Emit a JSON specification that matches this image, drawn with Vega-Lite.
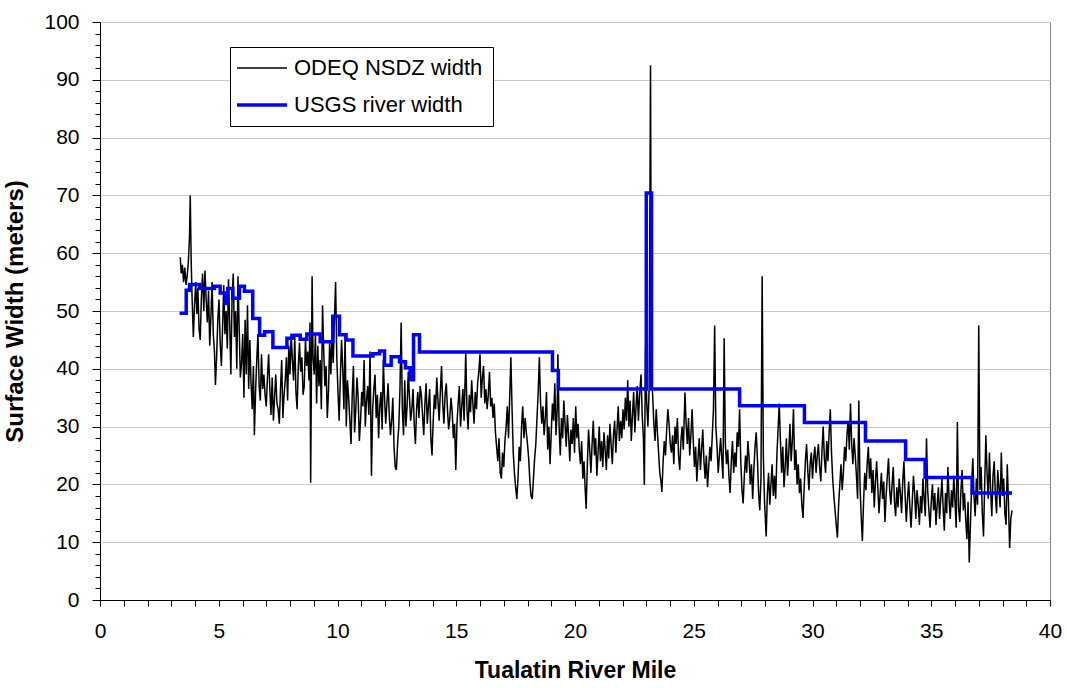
{
"$schema": "https://vega.github.io/schema/vega-lite/v6.json",
"width": 950,
"height": 578,
"autosize": {"type": "none"},
"padding": {"left": 100, "top": 22, "right": 17, "bottom": 88},
"background": "white",
"config": {"font": "Liberation Sans", "view": {"stroke": "#808080", "strokeWidth": 1}},
"datasets": {
"usgs": [
{"mile":3.35,"width":49.6},{"mile":3.63,"width":53.6},{"mile":3.77,"width":54.6},{"mile":4.19,"width":53.9},{"mile":4.82,"width":54.3},{"mile":5.06,"width":53.1},{"mile":5.28,"width":51.3},{"mile":5.38,"width":53.9},{"mile":5.59,"width":52.2},{"mile":5.87,"width":54.3},{"mile":6.08,"width":53.4},{"mile":6.43,"width":48.7},{"mile":6.72,"width":45.8},{"mile":6.93,"width":46.4},{"mile":7.28,"width":43.7},{"mile":7.87,"width":45.3},{"mile":8.09,"width":45.8},{"mile":8.43,"width":45.1},{"mile":8.71,"width":46.0},{"mile":9.27,"width":44.7},{"mile":9.8,"width":49.1},{"mile":10.08,"width":45.9},{"mile":10.36,"width":45.0},{"mile":10.65,"width":42.2},{"mile":11.49,"width":42.6},{"mile":11.77,"width":43.1},{"mile":11.98,"width":40.6},{"mile":12.26,"width":42.1},{"mile":12.61,"width":41.2},{"mile":12.86,"width":40.2},{"mile":13.06,"width":38.1},{"mile":13.2,"width":45.9},{"mile":13.45,"width":42.9},{"mile":19.05,"width":39.7},{"mile":19.3,"width":36.5},{"mile":23.0,"width":70.4},{"mile":23.22,"width":36.5},{"mile":26.93,"width":33.6},{"mile":29.66,"width":30.7},{"mile":32.23,"width":27.5},{"mile":33.92,"width":24.3},{"mile":34.74,"width":21.2},{"mile":36.72,"width":18.5},{"mile":38.4,"width":18.5}
],
"odeq": [
{"mile":3.38,"width":59.3},{"mile":3.42,"width":56.5},{"mile":3.47,"width":58.0},{"mile":3.52,"width":55.0},{"mile":3.57,"width":57.5},{"mile":3.62,"width":54.5},{"mile":3.67,"width":56.0},{"mile":3.72,"width":58.5},{"mile":3.77,"width":63.0},{"mile":3.8,"width":70.0},{"mile":3.84,"width":58.5},{"mile":3.88,"width":52.0},{"mile":3.93,"width":45.5},{"mile":3.98,"width":51.0},{"mile":4.03,"width":55.0},{"mile":4.08,"width":49.5},{"mile":4.12,"width":54.0},{"mile":4.17,"width":47.0},{"mile":4.22,"width":45.0},{"mile":4.27,"width":52.5},{"mile":4.32,"width":56.5},{"mile":4.37,"width":50.0},{"mile":4.42,"width":57.0},{"mile":4.47,"width":52.0},{"mile":4.52,"width":48.0},{"mile":4.57,"width":53.5},{"mile":4.62,"width":44.0},{"mile":4.67,"width":49.0},{"mile":4.72,"width":55.0},{"mile":4.77,"width":46.0},{"mile":4.82,"width":43.0},{"mile":4.86,"width":37.2},{"mile":4.91,"width":42.0},{"mile":4.96,"width":48.5},{"mile":5.01,"width":52.0},{"mile":5.06,"width":44.5},{"mile":5.11,"width":40.5},{"mile":5.16,"width":47.0},{"mile":5.21,"width":54.5},{"mile":5.26,"width":46.0},{"mile":5.31,"width":50.0},{"mile":5.36,"width":43.5},{"mile":5.41,"width":55.5},{"mile":5.46,"width":48.0},{"mile":5.51,"width":39.0},{"mile":5.56,"width":52.0},{"mile":5.61,"width":56.5},{"mile":5.66,"width":45.5},{"mile":5.71,"width":50.0},{"mile":5.76,"width":40.0},{"mile":5.81,"width":56.0},{"mile":5.86,"width":47.0},{"mile":5.91,"width":38.5},{"mile":5.96,"width":41.0},{"mile":6.01,"width":46.0},{"mile":6.06,"width":35.0},{"mile":6.11,"width":48.5},{"mile":6.16,"width":39.0},{"mile":6.21,"width":51.0},{"mile":6.26,"width":36.5},{"mile":6.31,"width":45.0},{"mile":6.36,"width":37.5},{"mile":6.41,"width":33.0},{"mile":6.46,"width":40.5},{"mile":6.5,"width":28.5},{"mile":6.55,"width":36.0},{"mile":6.6,"width":41.5},{"mile":6.65,"width":46.0},{"mile":6.7,"width":37.0},{"mile":6.75,"width":34.5},{"mile":6.8,"width":42.5},{"mile":6.85,"width":36.5},{"mile":6.9,"width":39.0},{"mile":6.95,"width":35.5},{"mile":7.0,"width":33.5},{"mile":7.05,"width":38.5},{"mile":7.1,"width":42.5},{"mile":7.15,"width":36.5},{"mile":7.2,"width":32.0},{"mile":7.25,"width":38.5},{"mile":7.3,"width":31.0},{"mile":7.35,"width":35.0},{"mile":7.4,"width":39.0},{"mile":7.45,"width":34.0},{"mile":7.5,"width":33.0},{"mile":7.55,"width":30.5},{"mile":7.6,"width":36.5},{"mile":7.65,"width":41.5},{"mile":7.7,"width":31.5},{"mile":7.75,"width":35.5},{"mile":7.8,"width":38.0},{"mile":7.85,"width":42.0},{"mile":7.9,"width":34.5},{"mile":7.95,"width":44.0},{"mile":8.0,"width":39.0},{"mile":8.05,"width":46.0},{"mile":8.1,"width":41.5},{"mile":8.15,"width":38.0},{"mile":8.2,"width":45.5},{"mile":8.25,"width":36.0},{"mile":8.3,"width":33.0},{"mile":8.35,"width":40.5},{"mile":8.4,"width":44.5},{"mile":8.45,"width":39.5},{"mile":8.5,"width":42.0},{"mile":8.55,"width":35.5},{"mile":8.6,"width":37.0},{"mile":8.65,"width":45.0},{"mile":8.7,"width":40.5},{"mile":8.75,"width":43.0},{"mile":8.8,"width":38.0},{"mile":8.84,"width":48.0},{"mile":8.87,"width":20.3},{"mile":8.9,"width":38.0},{"mile":8.93,"width":56.0},{"mile":8.97,"width":42.0},{"mile":9.02,"width":39.0},{"mile":9.07,"width":46.0},{"mile":9.12,"width":34.0},{"mile":9.17,"width":44.0},{"mile":9.22,"width":37.0},{"mile":9.27,"width":41.5},{"mile":9.32,"width":33.0},{"mile":9.37,"width":51.0},{"mile":9.42,"width":43.0},{"mile":9.47,"width":37.0},{"mile":9.52,"width":40.5},{"mile":9.57,"width":31.5},{"mile":9.62,"width":36.0},{"mile":9.67,"width":44.5},{"mile":9.72,"width":39.0},{"mile":9.77,"width":46.0},{"mile":9.82,"width":41.0},{"mile":9.87,"width":48.5},{"mile":9.92,"width":55.0},{"mile":9.97,"width":42.0},{"mile":10.02,"width":36.0},{"mile":10.07,"width":31.0},{"mile":10.12,"width":38.5},{"mile":10.17,"width":45.0},{"mile":10.22,"width":40.0},{"mile":10.27,"width":33.0},{"mile":10.32,"width":46.0},{"mile":10.37,"width":30.0},{"mile":10.42,"width":38.0},{"mile":10.47,"width":35.0},{"mile":10.52,"width":31.0},{"mile":10.57,"width":27.0},{"mile":10.62,"width":35.5},{"mile":10.67,"width":40.5},{"mile":10.72,"width":29.0},{"mile":10.77,"width":33.0},{"mile":10.82,"width":38.5},{"mile":10.87,"width":35.0},{"mile":10.92,"width":27.5},{"mile":10.97,"width":31.0},{"mile":11.02,"width":36.0},{"mile":11.07,"width":33.5},{"mile":11.12,"width":41.5},{"mile":11.17,"width":30.0},{"mile":11.22,"width":34.5},{"mile":11.27,"width":37.0},{"mile":11.32,"width":32.0},{"mile":11.37,"width":43.0},{"mile":11.43,"width":21.5},{"mile":11.48,"width":33.0},{"mile":11.53,"width":36.5},{"mile":11.58,"width":39.0},{"mile":11.63,"width":31.5},{"mile":11.68,"width":35.5},{"mile":11.73,"width":28.0},{"mile":11.78,"width":33.5},{"mile":11.83,"width":36.0},{"mile":11.88,"width":29.5},{"mile":11.93,"width":41.5},{"mile":11.98,"width":35.0},{"mile":12.03,"width":30.5},{"mile":12.08,"width":34.0},{"mile":12.13,"width":37.5},{"mile":12.18,"width":32.0},{"mile":12.23,"width":28.5},{"mile":12.28,"width":31.0},{"mile":12.33,"width":35.0},{"mile":12.38,"width":26.5},{"mile":12.43,"width":23.0},{"mile":12.48,"width":22.5},{"mile":12.53,"width":27.0},{"mile":12.58,"width":30.0},{"mile":12.63,"width":36.5},{"mile":12.68,"width":48.0},{"mile":12.73,"width":33.0},{"mile":12.78,"width":28.5},{"mile":12.83,"width":38.0},{"mile":12.88,"width":30.0},{"mile":12.93,"width":33.5},{"mile":12.98,"width":39.5},{"mile":13.03,"width":35.0},{"mile":13.08,"width":31.0},{"mile":13.13,"width":33.0},{"mile":13.18,"width":36.5},{"mile":13.23,"width":30.5},{"mile":13.28,"width":27.0},{"mile":13.33,"width":33.0},{"mile":13.38,"width":36.0},{"mile":13.43,"width":31.5},{"mile":13.48,"width":37.0},{"mile":13.53,"width":35.5},{"mile":13.58,"width":32.0},{"mile":13.63,"width":28.5},{"mile":13.68,"width":34.0},{"mile":13.73,"width":37.5},{"mile":13.78,"width":30.5},{"mile":13.83,"width":33.5},{"mile":13.88,"width":36.5},{"mile":13.93,"width":28.0},{"mile":13.98,"width":25.0},{"mile":14.03,"width":31.0},{"mile":14.08,"width":35.5},{"mile":14.13,"width":33.0},{"mile":14.18,"width":38.5},{"mile":14.23,"width":34.5},{"mile":14.28,"width":31.0},{"mile":14.33,"width":36.0},{"mile":14.38,"width":40.5},{"mile":14.43,"width":34.0},{"mile":14.48,"width":30.5},{"mile":14.53,"width":35.5},{"mile":14.58,"width":37.5},{"mile":14.63,"width":33.0},{"mile":14.68,"width":29.5},{"mile":14.73,"width":31.5},{"mile":14.78,"width":35.0},{"mile":14.83,"width":32.5},{"mile":14.88,"width":28.0},{"mile":14.93,"width":30.5},{"mile":14.98,"width":22.5},{"mile":15.03,"width":30.5},{"mile":15.08,"width":34.0},{"mile":15.13,"width":37.0},{"mile":15.18,"width":30.0},{"mile":15.23,"width":33.5},{"mile":15.28,"width":36.5},{"mile":15.33,"width":31.0},{"mile":15.4,"width":42.9},{"mile":15.45,"width":33.0},{"mile":15.5,"width":29.5},{"mile":15.55,"width":35.5},{"mile":15.6,"width":32.5},{"mile":15.65,"width":38.0},{"mile":15.7,"width":34.0},{"mile":15.75,"width":30.5},{"mile":15.8,"width":36.0},{"mile":15.85,"width":33.0},{"mile":15.9,"width":37.5},{"mile":15.95,"width":39.5},{"mile":16.0,"width":42.5},{"mile":16.05,"width":35.0},{"mile":16.1,"width":38.5},{"mile":16.15,"width":40.5},{"mile":16.2,"width":34.0},{"mile":16.25,"width":36.5},{"mile":16.3,"width":33.0},{"mile":16.35,"width":35.5},{"mile":16.4,"width":39.5},{"mile":16.45,"width":33.5},{"mile":16.5,"width":35.0},{"mile":16.55,"width":31.5},{"mile":16.6,"width":34.0},{"mile":16.65,"width":29.0},{"mile":16.7,"width":26.5},{"mile":16.75,"width":24.0},{"mile":16.8,"width":28.0},{"mile":16.85,"width":22.0},{"mile":16.9,"width":21.0},{"mile":16.95,"width":25.5},{"mile":17.0,"width":23.0},{"mile":17.05,"width":27.5},{"mile":17.1,"width":30.0},{"mile":17.15,"width":33.5},{"mile":17.2,"width":28.0},{"mile":17.25,"width":35.0},{"mile":17.3,"width":42.0},{"mile":17.35,"width":33.0},{"mile":17.4,"width":25.5},{"mile":17.45,"width":22.0},{"mile":17.5,"width":19.5},{"mile":17.55,"width":17.5},{"mile":17.6,"width":21.0},{"mile":17.65,"width":26.5},{"mile":17.7,"width":24.0},{"mile":17.75,"width":30.0},{"mile":17.8,"width":33.5},{"mile":17.85,"width":28.0},{"mile":17.9,"width":31.5},{"mile":17.95,"width":29.0},{"mile":18.0,"width":27.0},{"mile":18.05,"width":24.5},{"mile":18.1,"width":20.5},{"mile":18.15,"width":18.0},{"mile":18.2,"width":17.5},{"mile":18.25,"width":21.0},{"mile":18.3,"width":24.5},{"mile":18.35,"width":27.0},{"mile":18.4,"width":31.5},{"mile":18.45,"width":36.0},{"mile":18.5,"width":42.0},{"mile":18.55,"width":34.0},{"mile":18.6,"width":30.5},{"mile":18.65,"width":33.5},{"mile":18.7,"width":28.5},{"mile":18.75,"width":31.5},{"mile":18.8,"width":36.0},{"mile":18.85,"width":26.0},{"mile":18.9,"width":30.0},{"mile":18.95,"width":23.5},{"mile":19.0,"width":29.0},{"mile":19.05,"width":34.0},{"mile":19.1,"width":31.0},{"mile":19.15,"width":37.5},{"mile":19.2,"width":28.5},{"mile":19.25,"width":33.0},{"mile":19.28,"width":42.5},{"mile":19.33,"width":30.0},{"mile":19.38,"width":25.0},{"mile":19.43,"width":31.5},{"mile":19.48,"width":28.0},{"mile":19.53,"width":34.5},{"mile":19.58,"width":30.5},{"mile":19.63,"width":26.5},{"mile":19.68,"width":32.0},{"mile":19.73,"width":28.5},{"mile":19.78,"width":24.0},{"mile":19.83,"width":29.5},{"mile":19.88,"width":27.0},{"mile":19.93,"width":31.5},{"mile":19.98,"width":25.5},{"mile":20.03,"width":33.5},{"mile":20.08,"width":28.0},{"mile":20.13,"width":30.5},{"mile":20.18,"width":26.0},{"mile":20.23,"width":23.5},{"mile":20.28,"width":27.5},{"mile":20.33,"width":21.0},{"mile":20.38,"width":24.0},{"mile":20.43,"width":19.0},{"mile":20.47,"width":15.8},{"mile":20.52,"width":23.5},{"mile":20.57,"width":29.5},{"mile":20.62,"width":26.0},{"mile":20.67,"width":22.0},{"mile":20.72,"width":27.0},{"mile":20.77,"width":31.0},{"mile":20.82,"width":25.0},{"mile":20.87,"width":28.0},{"mile":20.92,"width":21.5},{"mile":20.97,"width":25.5},{"mile":21.02,"width":30.0},{"mile":21.07,"width":24.0},{"mile":21.12,"width":27.5},{"mile":21.17,"width":23.0},{"mile":21.22,"width":29.0},{"mile":21.27,"width":26.0},{"mile":21.32,"width":22.5},{"mile":21.37,"width":28.5},{"mile":21.42,"width":24.5},{"mile":21.47,"width":30.5},{"mile":21.52,"width":27.0},{"mile":21.57,"width":23.5},{"mile":21.62,"width":28.5},{"mile":21.67,"width":31.0},{"mile":21.72,"width":25.5},{"mile":21.77,"width":29.5},{"mile":21.82,"width":33.5},{"mile":21.87,"width":27.5},{"mile":21.92,"width":31.0},{"mile":21.97,"width":28.0},{"mile":22.02,"width":33.0},{"mile":22.07,"width":29.5},{"mile":22.12,"width":35.0},{"mile":22.17,"width":31.0},{"mile":22.22,"width":38.0},{"mile":22.27,"width":30.0},{"mile":22.32,"width":34.5},{"mile":22.37,"width":27.5},{"mile":22.42,"width":32.0},{"mile":22.47,"width":36.0},{"mile":22.52,"width":29.0},{"mile":22.57,"width":33.5},{"mile":22.62,"width":37.0},{"mile":22.67,"width":31.0},{"mile":22.72,"width":35.5},{"mile":22.78,"width":39.0},{"mile":22.83,"width":32.0},{"mile":22.88,"width":28.0},{"mile":22.92,"width":19.9},{"mile":22.97,"width":43.4},{"mile":23.02,"width":34.0},{"mile":23.07,"width":30.0},{"mile":23.12,"width":36.5},{"mile":23.18,"width":92.5},{"mile":23.22,"width":38.0},{"mile":23.27,"width":35.5},{"mile":23.32,"width":30.5},{"mile":23.37,"width":27.5},{"mile":23.42,"width":33.0},{"mile":23.47,"width":29.0},{"mile":23.52,"width":25.5},{"mile":23.57,"width":22.0},{"mile":23.62,"width":20.5},{"mile":23.66,"width":18.7},{"mile":23.71,"width":24.0},{"mile":23.76,"width":27.5},{"mile":23.81,"width":25.0},{"mile":23.86,"width":29.5},{"mile":23.91,"width":33.0},{"mile":23.96,"width":30.5},{"mile":24.01,"width":27.0},{"mile":24.06,"width":25.5},{"mile":24.11,"width":28.5},{"mile":24.16,"width":23.5},{"mile":24.21,"width":30.0},{"mile":24.26,"width":27.0},{"mile":24.31,"width":31.5},{"mile":24.36,"width":25.0},{"mile":24.41,"width":22.5},{"mile":24.46,"width":27.5},{"mile":24.51,"width":30.0},{"mile":24.56,"width":26.0},{"mile":24.63,"width":35.9},{"mile":24.68,"width":30.5},{"mile":24.73,"width":27.0},{"mile":24.78,"width":31.5},{"mile":24.83,"width":25.0},{"mile":24.88,"width":28.5},{"mile":24.93,"width":33.0},{"mile":24.98,"width":27.5},{"mile":25.03,"width":23.0},{"mile":25.08,"width":26.5},{"mile":25.13,"width":20.5},{"mile":25.18,"width":24.5},{"mile":25.23,"width":28.0},{"mile":25.28,"width":22.5},{"mile":25.33,"width":26.0},{"mile":25.38,"width":29.5},{"mile":25.43,"width":24.0},{"mile":25.48,"width":21.0},{"mile":25.53,"width":25.0},{"mile":25.58,"width":19.5},{"mile":25.63,"width":23.0},{"mile":25.68,"width":26.5},{"mile":25.73,"width":24.0},{"mile":25.78,"width":28.5},{"mile":25.83,"width":33.0},{"mile":25.88,"width":47.5},{"mile":25.93,"width":30.0},{"mile":25.98,"width":26.5},{"mile":26.03,"width":22.0},{"mile":26.08,"width":25.0},{"mile":26.13,"width":28.0},{"mile":26.18,"width":24.5},{"mile":26.23,"width":21.0},{"mile":26.28,"width":45.3},{"mile":26.33,"width":27.0},{"mile":26.38,"width":23.5},{"mile":26.43,"width":26.0},{"mile":26.48,"width":21.5},{"mile":26.53,"width":18.5},{"mile":26.58,"width":24.0},{"mile":26.63,"width":27.5},{"mile":26.68,"width":22.0},{"mile":26.73,"width":25.5},{"mile":26.78,"width":23.0},{"mile":26.83,"width":29.0},{"mile":26.88,"width":26.5},{"mile":26.93,"width":33.0},{"mile":26.98,"width":24.0},{"mile":27.03,"width":19.0},{"mile":27.08,"width":16.7},{"mile":27.13,"width":21.5},{"mile":27.18,"width":25.0},{"mile":27.23,"width":22.0},{"mile":27.28,"width":27.5},{"mile":27.33,"width":24.5},{"mile":27.38,"width":20.0},{"mile":27.43,"width":23.5},{"mile":27.48,"width":17.5},{"mile":27.53,"width":22.5},{"mile":27.58,"width":26.5},{"mile":27.63,"width":29.0},{"mile":27.68,"width":24.5},{"mile":27.73,"width":18.5},{"mile":27.78,"width":15.5},{"mile":27.83,"width":21.0},{"mile":27.88,"width":56.0},{"mile":27.93,"width":25.0},{"mile":27.98,"width":17.0},{"mile":28.05,"width":11.0},{"mile":28.1,"width":18.5},{"mile":28.15,"width":22.0},{"mile":28.2,"width":16.5},{"mile":28.25,"width":20.0},{"mile":28.3,"width":23.5},{"mile":28.35,"width":18.0},{"mile":28.4,"width":21.5},{"mile":28.45,"width":17.5},{"mile":28.5,"width":25.0},{"mile":28.55,"width":29.5},{"mile":28.6,"width":34.0},{"mile":28.65,"width":27.5},{"mile":28.7,"width":22.0},{"mile":28.75,"width":26.5},{"mile":28.8,"width":19.5},{"mile":28.85,"width":23.0},{"mile":28.9,"width":28.0},{"mile":28.95,"width":21.5},{"mile":29.0,"width":25.5},{"mile":29.05,"width":30.5},{"mile":29.1,"width":24.0},{"mile":29.15,"width":27.5},{"mile":29.2,"width":33.0},{"mile":29.25,"width":22.5},{"mile":29.3,"width":26.0},{"mile":29.35,"width":20.0},{"mile":29.4,"width":23.5},{"mile":29.45,"width":18.5},{"mile":29.5,"width":21.0},{"mile":29.55,"width":16.5},{"mile":29.6,"width":14.2},{"mile":29.65,"width":19.5},{"mile":29.7,"width":24.0},{"mile":29.75,"width":27.0},{"mile":29.8,"width":22.5},{"mile":29.85,"width":19.0},{"mile":29.9,"width":23.5},{"mile":29.95,"width":25.5},{"mile":30.0,"width":21.0},{"mile":30.05,"width":24.5},{"mile":30.1,"width":26.5},{"mile":30.15,"width":22.0},{"mile":30.2,"width":25.0},{"mile":30.25,"width":27.0},{"mile":30.3,"width":23.0},{"mile":30.35,"width":20.5},{"mile":30.4,"width":26.0},{"mile":30.45,"width":30.0},{"mile":30.5,"width":24.5},{"mile":30.55,"width":22.0},{"mile":30.6,"width":27.5},{"mile":30.65,"width":24.0},{"mile":30.7,"width":29.0},{"mile":30.75,"width":33.0},{"mile":30.8,"width":25.5},{"mile":30.85,"width":21.0},{"mile":30.9,"width":18.0},{"mile":30.95,"width":15.5},{"mile":31.0,"width":13.0},{"mile":31.05,"width":10.8},{"mile":31.1,"width":16.5},{"mile":31.15,"width":20.0},{"mile":31.2,"width":23.5},{"mile":31.25,"width":19.0},{"mile":31.3,"width":22.0},{"mile":31.35,"width":26.5},{"mile":31.4,"width":24.0},{"mile":31.45,"width":28.5},{"mile":31.5,"width":31.0},{"mile":31.55,"width":26.0},{"mile":31.6,"width":34.0},{"mile":31.65,"width":27.0},{"mile":31.7,"width":23.5},{"mile":31.75,"width":28.0},{"mile":31.8,"width":25.0},{"mile":31.85,"width":21.5},{"mile":31.9,"width":17.5},{"mile":31.95,"width":34.5},{"mile":32.0,"width":20.0},{"mile":32.05,"width":14.5},{"mile":32.1,"width":10.2},{"mile":32.15,"width":17.0},{"mile":32.2,"width":22.0},{"mile":32.25,"width":19.0},{"mile":32.3,"width":23.5},{"mile":32.35,"width":26.5},{"mile":32.4,"width":21.0},{"mile":32.45,"width":24.5},{"mile":32.5,"width":18.5},{"mile":32.55,"width":22.5},{"mile":32.6,"width":16.0},{"mile":32.65,"width":20.5},{"mile":32.7,"width":24.0},{"mile":32.75,"width":19.5},{"mile":32.8,"width":15.0},{"mile":32.85,"width":18.5},{"mile":32.9,"width":22.0},{"mile":32.95,"width":17.5},{"mile":33.0,"width":20.5},{"mile":33.05,"width":13.5},{"mile":33.1,"width":18.0},{"mile":33.15,"width":21.5},{"mile":33.2,"width":24.5},{"mile":33.25,"width":19.0},{"mile":33.3,"width":16.5},{"mile":33.35,"width":20.0},{"mile":33.4,"width":23.0},{"mile":33.45,"width":17.0},{"mile":33.5,"width":14.5},{"mile":33.55,"width":19.5},{"mile":33.6,"width":16.0},{"mile":33.65,"width":21.0},{"mile":33.7,"width":18.5},{"mile":33.75,"width":15.0},{"mile":33.8,"width":20.5},{"mile":33.85,"width":24.0},{"mile":33.9,"width":18.0},{"mile":33.95,"width":13.5},{"mile":34.0,"width":17.5},{"mile":34.05,"width":20.5},{"mile":34.1,"width":16.0},{"mile":34.15,"width":12.5},{"mile":34.2,"width":17.0},{"mile":34.25,"width":21.5},{"mile":34.3,"width":18.5},{"mile":34.35,"width":14.0},{"mile":34.4,"width":19.0},{"mile":34.45,"width":16.5},{"mile":34.5,"width":13.0},{"mile":34.55,"width":18.0},{"mile":34.6,"width":15.0},{"mile":34.65,"width":21.0},{"mile":34.7,"width":17.5},{"mile":34.75,"width":14.5},{"mile":34.8,"width":28.0},{"mile":34.85,"width":19.0},{"mile":34.9,"width":15.5},{"mile":34.95,"width":12.5},{"mile":35.0,"width":17.0},{"mile":35.05,"width":20.0},{"mile":35.1,"width":15.5},{"mile":35.15,"width":18.5},{"mile":35.2,"width":13.0},{"mile":35.25,"width":16.5},{"mile":35.3,"width":19.5},{"mile":35.35,"width":14.0},{"mile":35.4,"width":17.5},{"mile":35.45,"width":21.0},{"mile":35.5,"width":16.0},{"mile":35.55,"width":12.0},{"mile":35.6,"width":18.5},{"mile":35.65,"width":15.0},{"mile":35.7,"width":23.0},{"mile":35.75,"width":17.5},{"mile":35.8,"width":14.0},{"mile":35.85,"width":19.0},{"mile":35.9,"width":16.0},{"mile":35.95,"width":21.5},{"mile":36.0,"width":17.0},{"mile":36.05,"width":12.5},{"mile":36.1,"width":30.8},{"mile":36.15,"width":16.0},{"mile":36.2,"width":13.5},{"mile":36.25,"width":19.0},{"mile":36.3,"width":22.5},{"mile":36.35,"width":15.5},{"mile":36.4,"width":18.5},{"mile":36.45,"width":14.0},{"mile":36.5,"width":10.5},{"mile":36.55,"width":17.0},{"mile":36.6,"width":6.5},{"mile":36.65,"width":13.0},{"mile":36.7,"width":20.0},{"mile":36.75,"width":24.5},{"mile":36.8,"width":18.0},{"mile":36.85,"width":14.5},{"mile":36.9,"width":21.0},{"mile":36.95,"width":16.5},{"mile":37.0,"width":47.5},{"mile":37.05,"width":19.0},{"mile":37.1,"width":23.0},{"mile":37.15,"width":15.0},{"mile":37.2,"width":11.0},{"mile":37.25,"width":20.0},{"mile":37.3,"width":28.5},{"mile":37.35,"width":22.0},{"mile":37.4,"width":17.5},{"mile":37.45,"width":25.5},{"mile":37.5,"width":19.0},{"mile":37.55,"width":14.5},{"mile":37.6,"width":21.5},{"mile":37.65,"width":24.0},{"mile":37.7,"width":18.0},{"mile":37.75,"width":15.0},{"mile":37.8,"width":22.5},{"mile":37.85,"width":19.5},{"mile":37.9,"width":16.0},{"mile":37.95,"width":25.5},{"mile":38.0,"width":18.0},{"mile":38.05,"width":21.0},{"mile":38.1,"width":15.0},{"mile":38.15,"width":13.0},{"mile":38.2,"width":23.5},{"mile":38.25,"width":17.0},{"mile":38.3,"width":9.0},{"mile":38.35,"width":14.0},{"mile":38.4,"width":15.5}
]
},
"encoding": {
"x": {"field": "mile", "type": "quantitative", "scale": {"domain": [0, 40], "nice": false, "zero": false},
  "axis": {"title": "Tualatin River Mile", "values": [0,1,2,3,4,5,6,7,8,9,10,11,12,13,14,15,16,17,18,19,20,21,22,23,24,25,26,27,28,29,30,31,32,33,34,35,36,37,38,39,40],
    "labelExpr": "datum.value % 5 === 0 ? datum.label : ''", "grid": false, "tickSize": 6, "tickColor": "#000000", "domainColor": "#000000",
    "labelFontSize": 21, "labelColor": "#000000", "labelPadding": 14, "labelFlush": false, "labelOverlap": false,
    "titleFontSize": 23, "titleFontWeight": "bold", "titleColor": "#000000", "titlePadding": 18}},
"y": {"field": "width", "type": "quantitative", "scale": {"domain": [0, 100], "nice": false},
  "axis": {"title": "Surface Width (meters)", "values": [0,2,4,6,8,10,12,14,16,18,20,22,24,26,28,30,32,34,36,38,40,42,44,46,48,50,52,54,56,58,60,62,64,66,68,70,72,74,76,78,80,82,84,86,88,90,92,94,96,98,100],
    "labelExpr": "datum.value % 10 === 0 ? datum.label : ''", "grid": true, "gridColor": "#c8c8c8",
    "gridOpacity": {"condition": {"test": "datum.value % 10 === 0", "value": 1}, "value": 0},
    "tickSize": {"condition": {"test": "datum.value % 10 === 0", "value": 8}, "value": 5},
    "tickColor": "#000000", "domainColor": "#000000", "labelFontSize": 21, "labelColor": "#000000", "labelPadding": 13, "labelFlush": false, "labelOverlap": false,
    "titleFontSize": 24, "titleFontWeight": "bold", "titleColor": "#000000", "titlePadding": 16}}
},
"layer": [
{"data": {"name": "odeq"}, "mark": {"type": "line", "strokeWidth": 1.5, "interpolate": "linear"},
 "encoding": {"color": {"datum": "ODEQ NSDZ width", "type": "nominal",
   "scale": {"domain": ["ODEQ NSDZ width", "USGS river width"], "range": ["#000000", "#0000ff"]},
   "legend": {"title": null, "orient": "none", "legendX": 130, "legendY": 25, "symbolType": "stroke", "symbolSize": 2500,
     "symbolOffset": 11, "labelLimit": 400,
     "labelFontSize": 22, "labelColor": "#000000", "labelOffset": 21, "rowPadding": 15, "padding": 10,
     "fillColor": "#ffffff", "strokeColor": "#000000",
     "encode": {"symbols": {"update": {"strokeWidth": {"signal": "datum.value === 'USGS river width' ? 3.5 : 1.5"}}}}}}}},
{"data": {"name": "usgs"}, "mark": {"type": "line", "strokeWidth": 3.5, "interpolate": "step-after"},
 "encoding": {"color": {"datum": "USGS river width", "type": "nominal"}}}
]
}
